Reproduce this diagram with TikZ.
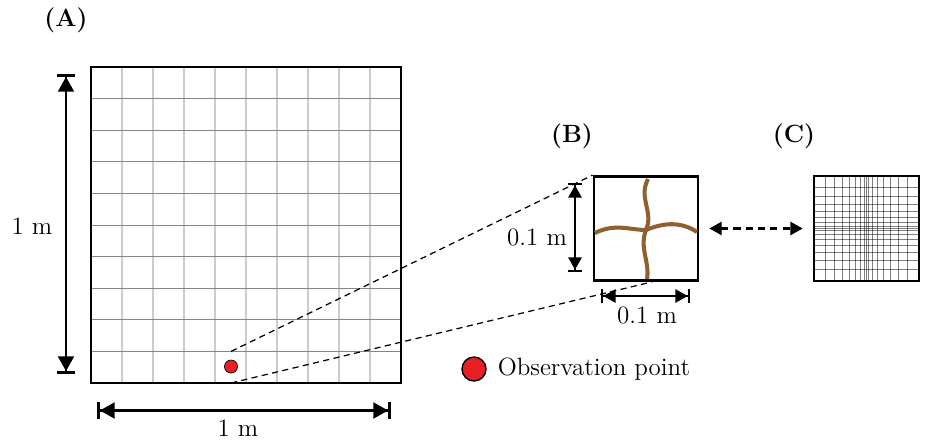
\documentclass[tikz,border=0pt]{standalone}
\usepackage{tikz}
\usetikzlibrary{arrows.meta,positioning}
\colorlet{rootbrown}{brown!75!black}
\definecolor{obsred}{RGB}{232,32,38}
\colorlet{coarsev}{gray!40}
\colorlet{coarseh}{gray!95}

\begin{document}
\begin{tikzpicture}[x=0.02cm,y=-0.02cm,font=\fontsize{14.2}{17}\selectfont,
  dimline/.style={line width=1.6pt,{Bar[width=10pt]Triangle[length=8.5pt,width=9pt]}-{Triangle[length=8.5pt,width=9pt]Bar[width=10pt]}},
  smalldim/.style={line width=1.3pt,{Bar[width=8pt]Triangle[length=7pt,width=7.5pt]}-{Triangle[length=7pt,width=7.5pt]Bar[width=8pt]}},
  zoomline/.style={line width=0.7pt,dash pattern=on 3.5pt off 2.5pt},
  box/.style={draw,line width=1.6pt,inner sep=0pt},
  panel/.style={font=\fontsize{14.2}{17}\selectfont\bfseries}]
\useasboundingbox (0,0) rectangle (926,443);
% (A) coarse 1 m domain, 10 x 10 cells
\foreach \i in {1,...,9} \draw[coarsev,line width=0.7pt] ({91+31*\i},67) -- ({91+31*\i},383);
\foreach \i in {1,...,9} \draw[coarseh,line width=0.45pt] (91,{67+31.6*\i}) -- (401,{67+31.6*\i});
\draw[line width=1.6pt] (91,67) rectangle (401,383);
\node[panel] (labA) at (66,20) {(A)};
\node[circle,draw,line width=0.4pt,fill=obsred,minimum size=0.26cm,inner sep=0pt] (obs) at (231,366.5) {};
\coordinate (celltop) at (231,351.4);
\coordinate (cellbot) at (231,383);
\coordinate (Atop) at (66,74); \coordinate (Abot) at (66,374);
\draw[dimline] (Atop) -- (Abot);
\node (lenAy) at (32,226) {1 m};
\coordinate (Aleft) at (97,410.5); \coordinate (Aright) at (391,410.5);
\draw[dimline] (Aleft) -- (Aright);
\node (lenAx) at (238,428) {1 m};
% (B) 0.1 m cell with roots
\node[box,minimum size=2.08cm] (zoomB) at (646,228.5) {};
\node[panel] (labB) at (572,136) {(B)};
\draw[rootbrown,line width=2.3pt] (648,179) .. controls (638,198) and (654,212) .. (646,230) .. controls (639,248) and (650,262) .. (647,279);
\draw[rootbrown,line width=2.3pt] (595,233) .. controls (615,223) and (630,230) .. (646,230) .. controls (665,222) and (682,222) .. (697,232);
\draw[zoomline] (celltop) -- (zoomB.north west);
\draw[zoomline] (cellbot) -- ([xshift=0.12cm]zoomB.south);
\coordinate (Btop) at (575,183); \coordinate (Bbot) at (575,272);
\draw[smalldim] (Btop) -- (Bbot);
\node (lenBy) at (537,237) {0.1 m};
\coordinate (Bleft) at (601,296); \coordinate (Bright) at (690,296);
\draw[smalldim] (Bleft) -- (Bright);
\node (lenBx) at (647,315) {0.1 m};
% (C) refined mesh
\node[minimum size=2.1cm,inner sep=0pt] (fineC) at (866.5,228.5) {};
\node[panel] (labC) at (794,136) {(C)};
\begin{scope}[shift={(fineC.center)}]
  \foreach \k in {0,...,7} {
    \pgfmathsetmacro\d{51*(\k/8)^1.6}
    \draw[black,opacity=0.5,line width=0.55pt] (\d,-52) -- (\d,52) (-\d,-52) -- (-\d,52);
    \draw[black,opacity=0.5,line width=0.55pt] (-52,\d) -- (52,\d) (-52,-\d) -- (52,-\d);
  }
\end{scope}
\node[box,minimum size=2.1cm] (fineCframe) at (fineC.center) {};
\draw[line width=1.2pt,dash pattern=on 4pt off 3pt,{Triangle[length=7pt,width=7.5pt]}-{Triangle[length=7pt,width=7.5pt]}] ([xshift=0.2cm]zoomB.east) -- ([xshift=-0.22cm]fineC.west);
% legend
\node[circle,draw,line width=0.8pt,fill=obsred,minimum size=0.48cm,inner sep=0pt] (legdot) at (474,369) {};
\node[right=0.1cm of legdot] (legtext) {Observation point};
\end{tikzpicture}
\end{document}
